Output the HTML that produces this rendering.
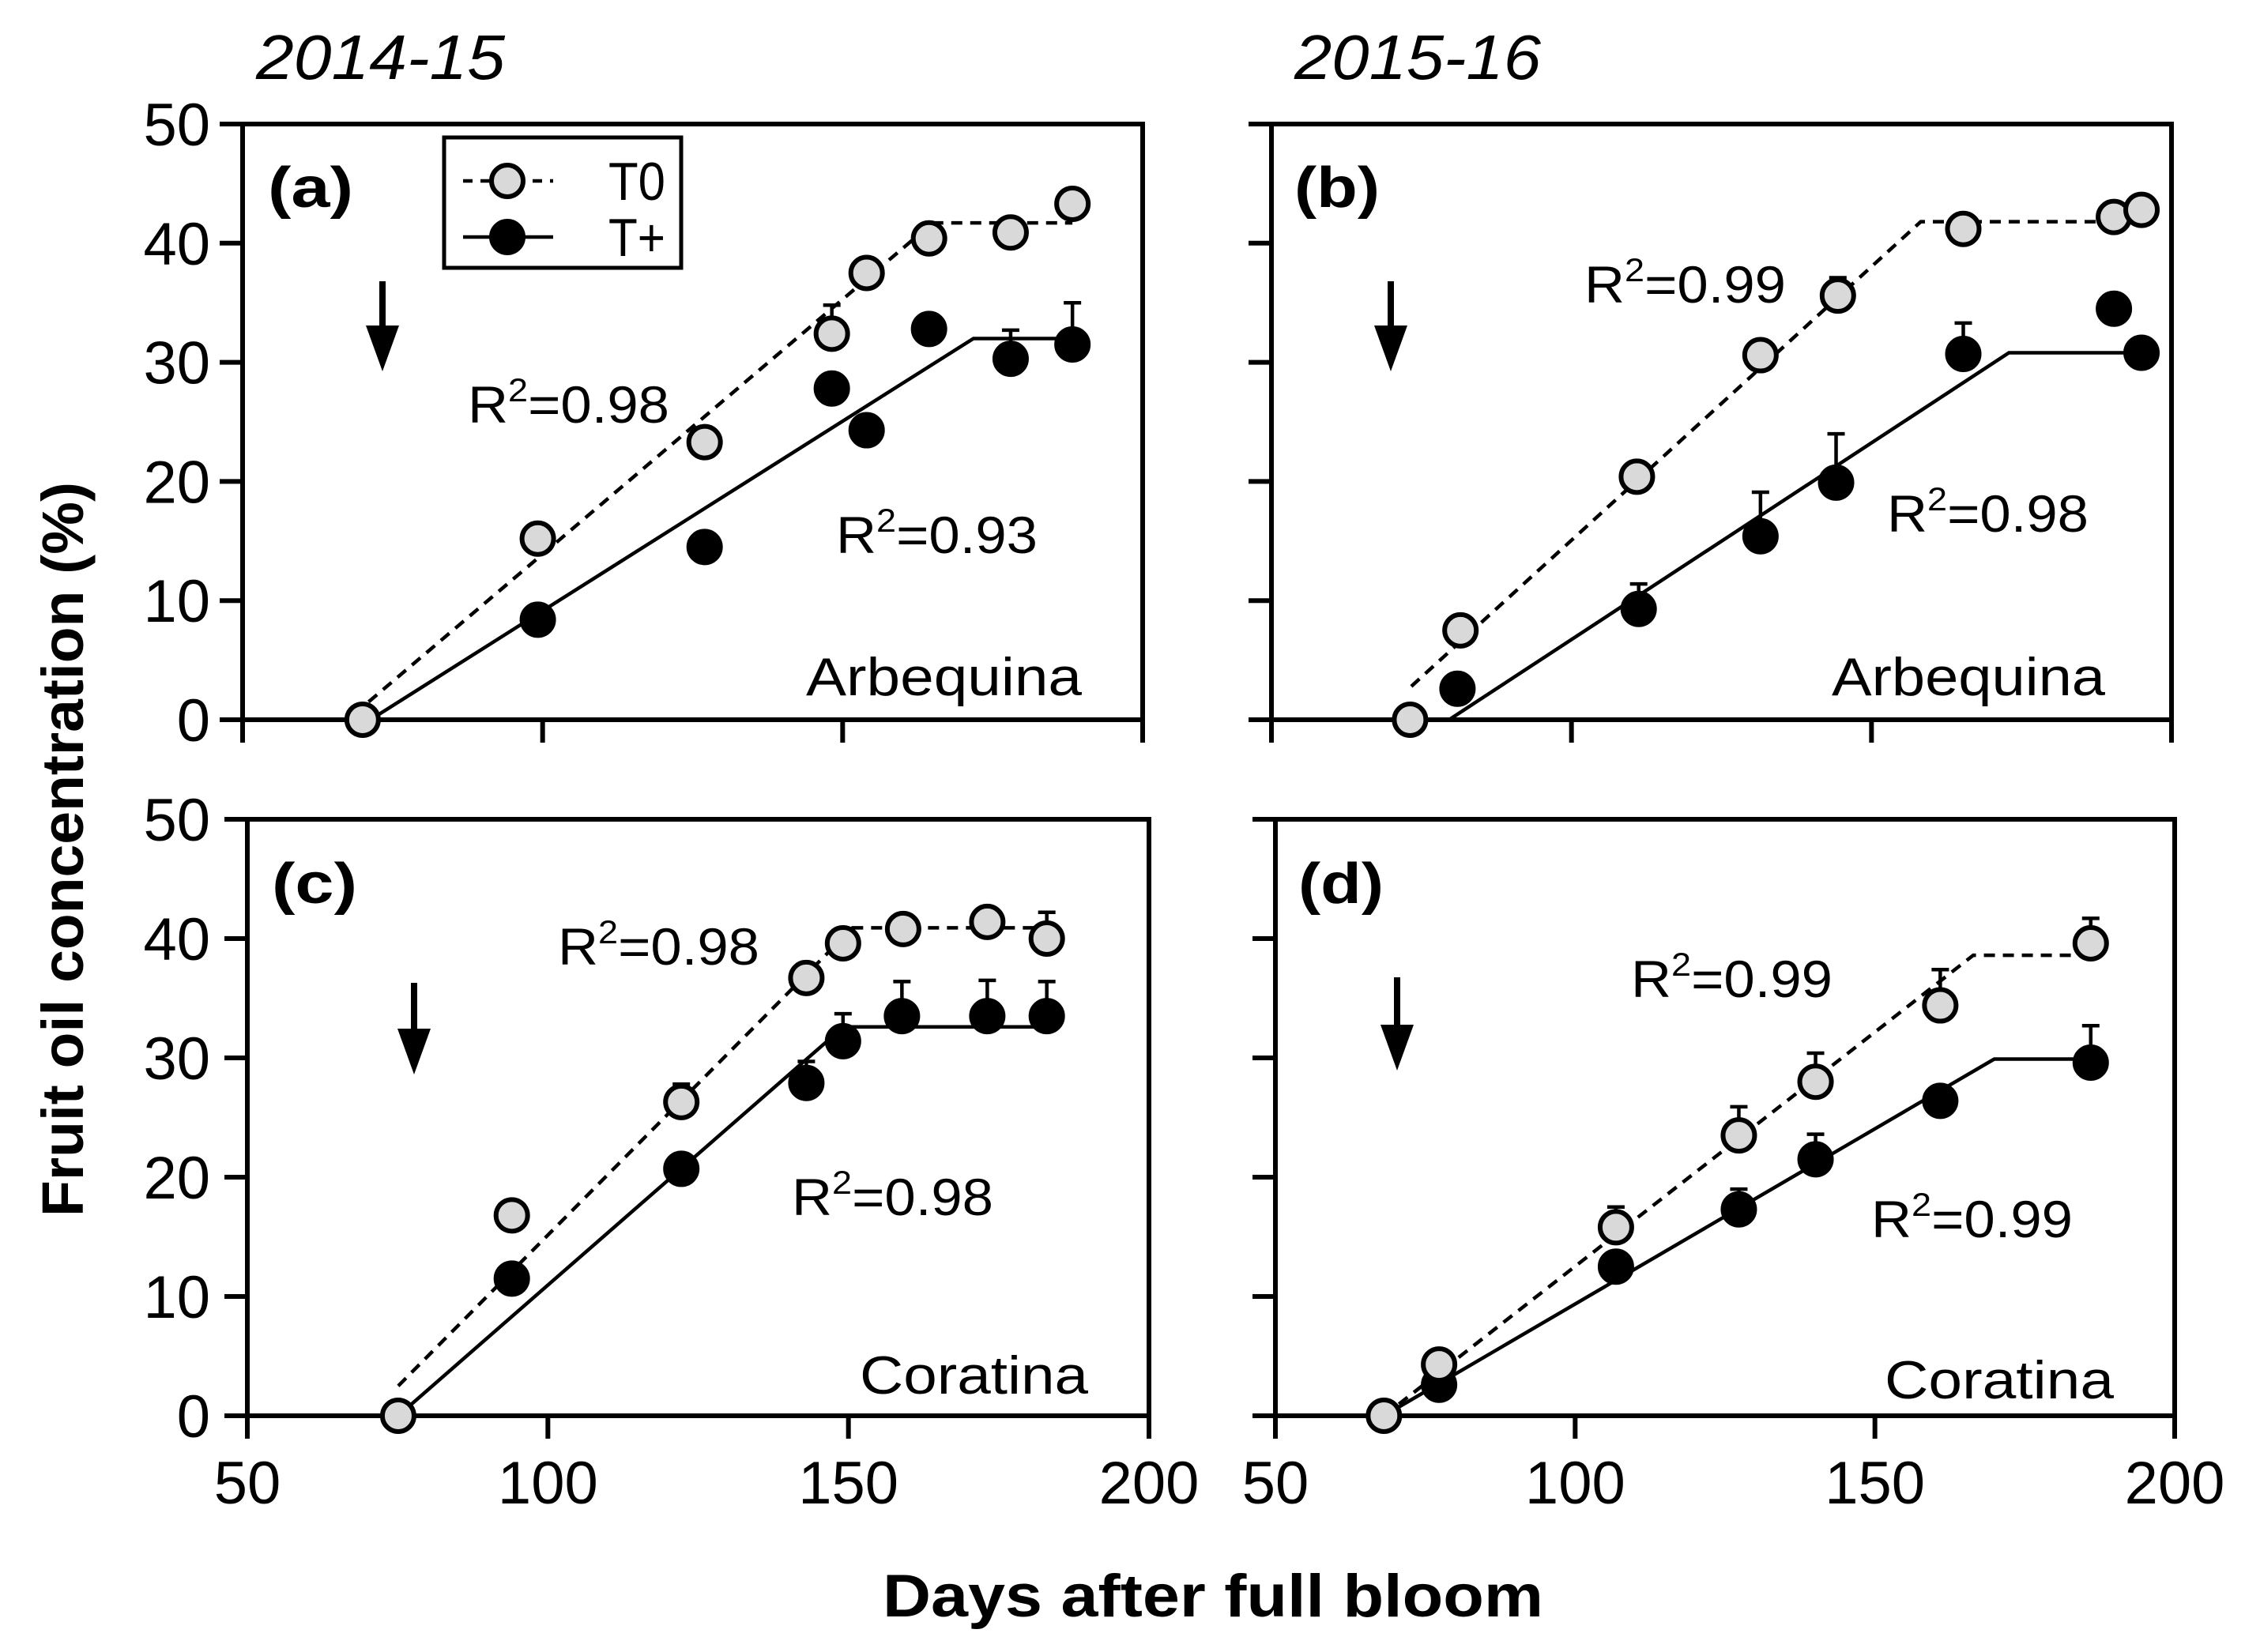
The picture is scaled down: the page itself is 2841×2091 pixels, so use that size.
<!DOCTYPE html>
<html><head><meta charset="utf-8"><style>
html,body{margin:0;padding:0;background:#fff;}
svg{display:block;}
text{font-family:"Liberation Sans",Arial,sans-serif;fill:#000;}
</style></head><body>
<svg id="fig" width="2841" height="2091" viewBox="0 0 2841 2091" xmlns="http://www.w3.org/2000/svg">
<text x="324" y="100" font-size="80" font-style="italic" textLength="315" lengthAdjust="spacingAndGlyphs">2014-15</text>
<text x="1638" y="100" font-size="80" font-style="italic" textLength="312" lengthAdjust="spacingAndGlyphs">2015-16</text>
<text transform="translate(105,1075) rotate(-90)" text-anchor="middle" font-size="74" font-weight="bold" textLength="930" lengthAdjust="spacingAndGlyphs">Fruit oil concentration (%)</text>
<text x="1535" y="2046" text-anchor="middle" font-size="76" font-weight="bold" textLength="836" lengthAdjust="spacingAndGlyphs">Days after full bloom</text>
</svg>
<script>
// ---- data (days after full bloom, oil %) ----
const xTicks = [50, 100, 150, 200];
const yTicks = [0, 10, 20, 30, 40, 50];
// Panel a
const aT0x = [70, 99.2, 127, 148.2, 154, 164.4, 178, 188.3];
const aT0y = [0, 15.2, 23.3, 32.4, 37.5, 40.4, 40.9, 43.3];
const aT0e = [0, 0, 0, 2.4, 0, 0, 0, 0];
const aTpx = [99.2, 127, 148.2, 154, 164.4, 178, 188.3];
const aTpy = [8.4, 14.5, 27.8, 24.3, 32.8, 30.3, 31.5];
const aTpe = [0, 0, 0, 0, 0, 2.4, 3.5];
const aFitT0x = [71, 165, 188.3];
const aFitT0y = [1.5, 41.7, 41.7];
const aFitTpx = [71.3, 171.8, 188.3];
const aFitTpy = [0, 32.0, 32.0];
// Panel b
const bT0x = [73.1, 81.5, 110.9, 131.5, 144.4, 165.3, 190.4, 195];
const bT0y = [0, 7.5, 20.4, 30.6, 35.6, 41.2, 42.2, 42.8];
const bT0e = [0, 0, 0, 0, 1.5, 0, 0, 0];
const bTpx = [81.0, 111.2, 131.5, 144.1, 165.3, 190.4, 195];
const bTpy = [2.6, 9.3, 15.4, 19.9, 30.7, 34.5, 30.8];
const bTpe = [0, 2.1, 3.7, 4.1, 2.6, 0, 0];
const bFitT0x = [73.3, 158.2, 195];
const bFitT0y = [2.8, 41.8, 41.8];
const bFitTpx = [79.6, 172.9, 195];
const bFitTpy = [0, 30.8, 30.8];
// Panel c
const cT0x = [75.1, 94.0, 122.2, 143.0, 149.1, 159.1, 173.1, 183];
const cT0y = [0, 16.8, 26.3, 36.7, 39.6, 40.8, 41.4, 40.0];
const cT0e = [0, 0, 1.5, 0, 0, 0, 0, 2.2];
const cTpx = [94.0, 122.2, 143, 149.1, 158.9, 173.1, 183];
const cTpy = [11.5, 20.7, 27.9, 31.4, 33.5, 33.5, 33.5];
const cTpe = [0, 0, 1.8, 2.3, 2.9, 3.0, 2.9];
const cFitT0x = [75.1, 150.7, 184];
const cFitT0y = [2.5, 40.9, 40.9];
const cFitTpx = [75.1, 149.2, 184];
const cFitTpy = [0, 32.6, 32.6];
// Panel d
const dT0x = [68.1, 77.3, 106.8, 127.3, 140.1, 160.9, 186];
const dT0y = [0, 4.3, 15.8, 23.5, 28.0, 34.4, 39.6];
const dT0e = [0, 0, 1.7, 2.4, 2.4, 3.0, 2.1];
const dTpx = [77.3, 106.8, 127.3, 140.1, 160.9, 186];
const dTpy = [2.6, 12.5, 17.3, 21.5, 26.4, 29.6];
const dTpe = [0, 0, 1.7, 2.1, 0, 3.1];
const dFitT0x = [68.1, 166.4, 186];
const dFitT0y = [0, 38.6, 38.6];
const dFitTpx = [68.1, 169.9, 186];
const dFitTpy = [0, 29.9, 29.9];

const NS = "http://www.w3.org/2000/svg";
const svg = document.getElementById('fig');
function mk(tag, attrs, parent){ const e=document.createElementNS(NS,tag); for(const k in attrs) e.setAttribute(k,attrs[k]); (parent||svg).appendChild(e); return e; }

const panels = [
 {id:'a', L:307, R:1446, T:157, B:911, yLab:true, xLab:false, tag:'(a)', tagX:339, tagY:262, cult:'Arbequina', cultX:1020, cultW:349, cultY:880,
  r1:'0.98', r1x:592, r1y:535, r2:'0.93', r2x:1058, r2y:700, arrowX:484, arrowT:356, arrowB:470,
  T0x:aT0x,T0y:aT0y,T0e:aT0e,Tpx:aTpx,Tpy:aTpy,Tpe:aTpe,f0x:aFitT0x,f0y:aFitT0y,fpx:aFitTpx,fpy:aFitTpy, legend:true},
 {id:'b', L:1609, R:2748, T:157, B:911, yLab:false, xLab:false, tag:'(b)', tagX:1638, tagY:262, cult:'Arbequina', cultX:2318, cultW:346, cultY:880,
  r1:'0.99', r1x:2005, r1y:383, r2:'0.98', r2x:2388, r2y:673, arrowX:1760, arrowT:356, arrowB:470,
  T0x:bT0x,T0y:bT0y,T0e:bT0e,Tpx:bTpx,Tpy:bTpy,Tpe:bTpe,f0x:bFitT0x,f0y:bFitT0y,fpx:bFitTpx,fpy:bFitTpy},
 {id:'c', L:313, R:1454, T:1037, B:1792, yLab:true, xLab:true, tag:'(c)', tagX:344, tagY:1143, cult:'Coratina', cultX:1088, cultW:289, cultY:1764,
  r1:'0.98', r1x:706, r1y:1221, r2:'0.98', r2x:1002, r2y:1538, arrowX:524, arrowT:1244, arrowB:1360,
  T0x:cT0x,T0y:cT0y,T0e:cT0e,Tpx:cTpx,Tpy:cTpy,Tpe:cTpe,f0x:cFitT0x,f0y:cFitT0y,fpx:cFitTpx,fpy:cFitTpy},
 {id:'d', L:1614, R:2752, T:1037, B:1792, yLab:false, xLab:true, tag:'(d)', tagX:1643, tagY:1143, cult:'Coratina', cultX:2385, cultW:290, cultY:1770,
  r1:'0.99', r1x:2064, r1y:1262, r2:'0.99', r2x:2368, r2y:1566, arrowX:1768, arrowT:1237, arrowB:1355,
  T0x:dT0x,T0y:dT0y,T0e:dT0e,Tpx:dTpx,Tpy:dTpy,Tpe:dTpe,f0x:dFitT0x,f0y:dFitT0y,fpx:dFitTpx,fpy:dFitTpy}
];

panels.forEach(p=>{
  const g = mk('g',{});
  
  
  const sx = v => p.L + (v-50)/150*(p.R-p.L);
  const sy = v => p.B - v/50*(p.B-p.T);
  const frame = mk('rect',{x:p.L,y:p.T,width:p.R-p.L,height:p.B-p.T,fill:'none',stroke:'#000','stroke-width':6},g);
  
  
  yTicks.forEach(t=>{
    const tk = mk('line',{x1:p.L-29,x2:p.L,y1:sy(t),y2:sy(t),stroke:'#000','stroke-width':6},g);
    
    
    if(p.yLab){
      const s=String(t);
      const tl = mk('text',{x:266,y:sy(t)+27,'text-anchor':'end','font-size':76},g);
      tl.textContent=s;
      
      
    }
  });
  xTicks.forEach(t=>{
    const tk = mk('line',{x1:sx(t),x2:sx(t),y1:p.B,y2:p.B+29,stroke:'#000','stroke-width':6},g);
    
    
    if(p.xLab){
      const s=String(t);
      const tl = mk('text',{x:sx(t),y:1903,'text-anchor':'middle','font-size':76},g);
      tl.textContent=s;
      
      
    }
  });
  const tg = mk('text',{x:p.tagX,y:p.tagY,'font-size':72,'font-weight':'bold',textLength:108,lengthAdjust:'spacingAndGlyphs'},g);
  tg.textContent=p.tag;
  
  
  const ar = mk('g',{},g);
  
  
  mk('line',{x1:p.arrowX,x2:p.arrowX,y1:p.arrowT,y2:p.arrowB-40,stroke:'#000','stroke-width':8},ar);
  mk('polygon',{points:`${p.arrowX-21},${p.arrowB-58} ${p.arrowX+21},${p.arrowB-58} ${p.arrowX},${p.arrowB}`,fill:'#000'},ar);
  const pts=(xs,ys)=>xs.map((x,i)=>sx(x)+','+sy(ys[i])).join(' ');
  const f0 = mk('polyline',{points:pts(p.f0x,p.f0y),fill:'none',stroke:'#000','stroke-width':4.5,'stroke-dasharray':'14 10'},g);
  
  
  const fp = mk('polyline',{points:pts(p.fpx,p.fpy),fill:'none',stroke:'#000','stroke-width':4.5},g);
  
  
  function series(xs,ys,es,fill,name){
    xs.forEach((x,i)=>{
      if(es[i]>0){
        const eb = mk('path',{d:`M${sx(x)},${sy(ys[i])} V${sy(ys[i]+es[i])} M${sx(x)-11},${sy(ys[i]+es[i])} H${sx(x)+11}`,stroke:'#000','stroke-width':4.5,fill:'none'},g);
        
        
      }
      const c = mk('ellipse',{cx:sx(x),cy:sy(ys[i]),rx:20,ry:20,fill:fill,stroke:'#000','stroke-width':6},g);
      
      
    });
  }
  series(p.Tpx,p.Tpy,p.Tpe,'#000','tplus');
  series(p.T0x,p.T0y,p.T0e,'#d9d9d9','t0');
  [[p.r1,p.r1x,p.r1y,'r2-label-t0'],[p.r2,p.r2x,p.r2y,'r2-label-tplus']].forEach(r=>{
    const t = mk('text',{x:r[1],y:r[2],'font-size':66},g);
    
    
    const a = mk('tspan',{},t); a.textContent='R';
    const b = mk('tspan',{dy:-27,'font-size':42}); t.appendChild(b); b.textContent='2';
    const c = mk('tspan',{dy:27}); t.appendChild(c); c.textContent='=0.'+r[0].split('.')[1];
    t.setAttribute('textLength', 255);
    t.setAttribute('lengthAdjust','spacingAndGlyphs');
  });
  const cu = mk('text',{x:p.cultX,y:p.cultY,'font-size':68,textLength:p.cultW,lengthAdjust:'spacingAndGlyphs'},g);
  cu.textContent=p.cult;
  
  
  if(p.legend){
    const lg = mk('g',{},g);
    
    
    mk('rect',{x:562,y:174,width:300,height:165,fill:'#fff',stroke:'#000','stroke-width':5},lg);
    const e1 = mk('g',{},lg);
    
    
    mk('line',{x1:586,x2:700,y1:229,y2:229,stroke:'#000','stroke-width':4.5,'stroke-dasharray':'12 10'},e1);
    mk('ellipse',{cx:642,cy:229,rx:20,ry:20,fill:'#d9d9d9',stroke:'#000','stroke-width':6},e1);
    const t1 = mk('text',{x:770,y:253,'font-size':68,textLength:72,lengthAdjust:'spacingAndGlyphs'},e1); t1.textContent='T0';
    const e2 = mk('g',{},lg);
    
    
    mk('line',{x1:586,x2:700,y1:300,y2:300,stroke:'#000','stroke-width':4.5},e2);
    mk('ellipse',{cx:642,cy:300,rx:20,ry:20,fill:'#000',stroke:'#000','stroke-width':6},e2);
    const t2 = mk('text',{x:770,y:324,'font-size':68,textLength:72,lengthAdjust:'spacingAndGlyphs'},e2); t2.textContent='T+';
  }
});
</script>
</body></html>
